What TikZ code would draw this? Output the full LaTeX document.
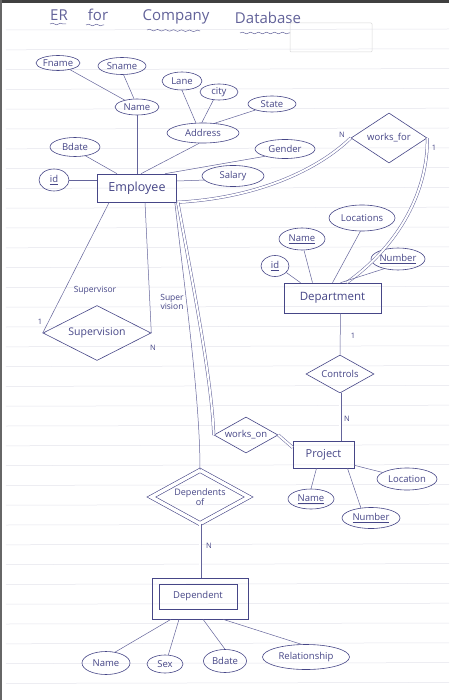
\documentclass[tikz,border=0pt]{standalone}
\usepackage{fontspec}
\setmainfont{Open Sans}
\usetikzlibrary{shapes.geometric,decorations.pathmorphing}
\definecolor{ink}{RGB}{70,70,135}
\definecolor{wire}{RGB}{100,100,155}
\definecolor{ruleln}{RGB}{228,228,236}
\begin{document}
\begin{tikzpicture}[x=1pt,y=-1pt,
  attr/.style={ellipse,draw=ink,line width=0.6pt,inner sep=0pt,text=ink,font=\fontsize{9.5}{10}\selectfont},
  entbox/.style={rectangle,draw=ink,line width=0.6pt,inner sep=0pt,text=ink,font=\fontsize{11.5}{12}\selectfont},
  rel/.style={diamond,draw=ink,line width=0.6pt,inner sep=0pt,aspect=2,text=ink,font=\fontsize{9.5}{10}\selectfont},
  link/.style={draw=wire,line width=0.5pt},
  dbl/.style={draw=wire,line width=0.5pt,double=white,double distance=2pt},
  card/.style={text=ink,inner sep=0pt,font=\fontsize{7.5}{8}\selectfont},
  lbl/.style={text=ink,inner sep=0pt,align=center,font=\fontsize{8.5}{9.5}\selectfont},
  ttl/.style={text=ink!85,inner sep=0pt,font=\fontsize{15}{16}\selectfont},
  wavy/.style={draw=ink!80,line width=0.5pt,decorate,decoration={snake,amplitude=0.8pt,segment length=8pt}}
]
\useasboundingbox (0,0) rectangle (449,700);
\fill[white] (0,0) rectangle (449,700);
% notebook rules
\foreach \k in {0,...,33} { \draw[ruleln,line width=0.5pt] (6,{30+19.8*\k}) -- (449,{29+19.8*\k}); }
% photo edges
\fill[black!75] (0,0) rectangle (449,3);
\fill[black!60] (0,0) rectangle (2,700);
% stamp box
\draw[black!15,line width=0.5pt,rounded corners=1pt] (290,23) rectangle (372,52);

% title
\node[ttl] (t1) at (59,15) {ER};
\node[ttl] (t2) at (98,15) {for};
\node[ttl] (t3) at (176,17) {Company};
\node[ttl] (t4) at (268,18) {Database};
\draw[wavy] (50,24) -- (66,24);
\draw[wavy] (86,25) -- (104,25);
\draw[wavy] (147,30) -- (200,31);
\draw[wavy] (240,33) -- (290,33);

% Employee and attributes
\node[entbox,minimum width=79pt,minimum height=28pt,font=\fontsize{12.5}{13}\selectfont] (emp) at (137,188) {Employee};
\node[attr,minimum width=44pt,minimum height=15pt] (fname) at (58,63) {Fname};
\node[attr,minimum width=48pt,minimum height=17pt] (sname) at (122,66) {Sname};
\node[attr,minimum width=44pt,minimum height=16pt] (ename) at (137,107) {Name};
\node[attr,minimum width=40pt,minimum height=18pt] (lane) at (182,81) {Lane};
\node[attr,minimum width=38pt,minimum height=16pt] (city) at (219,92) {city};
\node[attr,minimum width=48pt,minimum height=16pt] (state) at (272,104) {State};
\node[attr,minimum width=72pt,minimum height=20pt] (address) at (203,133) {Address};
\node[attr,minimum width=50pt,minimum height=19pt] (bdate) at (75,147) {Bdate};
\node[attr,minimum width=60pt,minimum height=19pt] (gender) at (285,149) {Gender};
\node[attr,minimum width=30pt,minimum height=22pt] (eid) at (54,180) {\underline{id}};
\node[attr,minimum width=62pt,minimum height=21pt] (salary) at (233,176) {Salary};

\draw[link] (fname) -- (ename);
\draw[link] (sname.-80) -- (ename.110);
\draw[link] (ename.south) -- (emp.north);
\draw[link] (lane.south) -- (address.125);
\draw[link] (city.235) -- (address.97);
\draw[link] (state.200) -- (address.40);
\draw[link] (address.250) -- ([xshift=4pt]emp.north);
\draw[link] (bdate.-40) -- ([xshift=-20pt]emp.north);
\draw[link] (gender.200) -- ([xshift=28pt]emp.north);
\draw[link] (salary.188) -- ([yshift=7pt]emp.east);
\draw[link] (eid.east) -- (eid.east -| emp.west);

% Supervision
\node[rel,minimum width=108pt,minimum height=55pt,font=\fontsize{10.5}{11}\selectfont] (sup) at (97,333) {Supervision};
\draw[link] ([xshift=12pt]emp.south west) -- (sup.west);
\draw[link] ([xshift=8pt]emp.south) -- (sup.east);
\node[lbl] (l1) at (95,290) {Supervisor};
\node[lbl] (l2) at (172,302) {Super\\vision};
\node[card] (c1) at (40,322) {1};
\node[card] (c2) at (153,348) {N};

% works_for
\node[rel,minimum width=76pt,minimum height=50pt] (wf) at (389,138) {works\_for};
\draw[dbl] (emp.south east) .. controls (260,198) and (320,168) .. (wf.west);
\node[card] (c3) at (342,135) {N};
\node[card] (c4) at (434,148) {1};

% Department
\node[entbox,minimum width=97pt,minimum height=30pt] (dept) at (332.5,298) {Department};
\node[attr,minimum width=28pt,minimum height=21pt] (did) at (275,266) {\underline{id}};
\node[attr,minimum width=46pt,minimum height=22pt] (dname) at (302,239) {\underline{Name}};
\node[attr,minimum width=66pt,minimum height=26pt] (loc) at (362,218) {Locations};
\node[attr,minimum width=54pt,minimum height=22pt] (dnum) at (398,259) {\underline{Number}};
\draw[dbl] (wf.east) .. controls (428,190) and (400,245) .. ([xshift=14pt]dept.north);
\draw[link] (did.-30) -- ([xshift=-32pt]dept.north);
\draw[link] (dname.-80) -- ([xshift=-20pt]dept.north);
\draw[link] (loc.263) -- (dept.north);
\draw[link] (dnum.215) -- ([xshift=8pt]dept.north);

% Controls
\node[rel,minimum width=68pt,minimum height=38pt] (ctrl) at (340,374) {Controls};
\draw[link] ([xshift=8pt]dept.south) -- (ctrl.north);
\node[card] (c5) at (353,336) {1};

% Project
\node[entbox,minimum width=61pt,minimum height=27pt,font=\fontsize{11}{12}\selectfont] (proj) at (323.5,454.5) {Project};
\draw[dbl] (ctrl.south) -- (ctrl.south |- proj.north);
\node[card] (c6) at (347,419) {N};
\node[attr,minimum width=60pt,minimum height=22pt] (ploc) at (407,479) {Location};
\node[attr,minimum width=46pt,minimum height=20pt] (pname) at (311,499) {\underline{Name}};
\node[attr,minimum width=58pt,minimum height=21pt] (pnum) at (371,518) {\underline{Number}};
\draw[link] ([xshift=-7pt]proj.south) -- (pname.north);
\draw[link] ([xshift=24pt]proj.south) -- (pnum.135);
\draw[link] ([yshift=3pt]proj.south east) -- (ploc.165);

% works_on
\node[rel,minimum width=64pt,minimum height=36pt] (wo) at (246,435) {works\_on};
\draw[dbl] ([xshift=1pt]emp.south east) .. controls (192,280) and (212,380) .. (wo.west);
\draw[dbl] (wo.east) -- ([yshift=7pt]proj.west);

% Dependents_of
\node[rel,double,double distance=3.5pt,minimum width=97.5pt,minimum height=53.5pt,align=center,font=\fontsize{9}{10}\selectfont] (depof) at (200,497) {Dependents\\of};
\draw[link] ([xshift=-2pt]emp.south east) .. controls (186,300) and (200,400) .. (depof.north);

% Dependent (weak entity: double box)
\node[rectangle,draw=ink,line width=0.6pt,minimum width=96pt,minimum height=41pt] (dep) at (200,598.5) {};
\node[entbox,minimum width=78pt,minimum height=25pt,font=\fontsize{9.5}{10}\selectfont] (depin) at (198,596.5) {Dependent};
\draw[dbl] (depof.south) -- (depof.south |- dep.north);
\node[card] (c7) at (209,546) {N};
\node[attr,minimum width=48pt,minimum height=23pt] (dname2) at (106,663) {Name};
\node[attr,minimum width=36pt,minimum height=18pt] (dsex) at (165,664) {Sex};
\node[attr,minimum width=43pt,minimum height=23pt] (dbdate) at (225,661) {Bdate};
\node[attr,minimum width=87pt,minimum height=25pt] (drel) at (306,657) {Relationship};
\draw[link] ([xshift=-29pt]dep.south) -- (dname2.50);
\draw[link] ([xshift=-21pt]dep.south) -- (dsex.70);
\draw[link] ([xshift=3pt]dep.south) -- (dbdate.north);
\draw[link] ([xshift=23pt]dep.south) -- (drel.110);
\end{tikzpicture}
\end{document}
